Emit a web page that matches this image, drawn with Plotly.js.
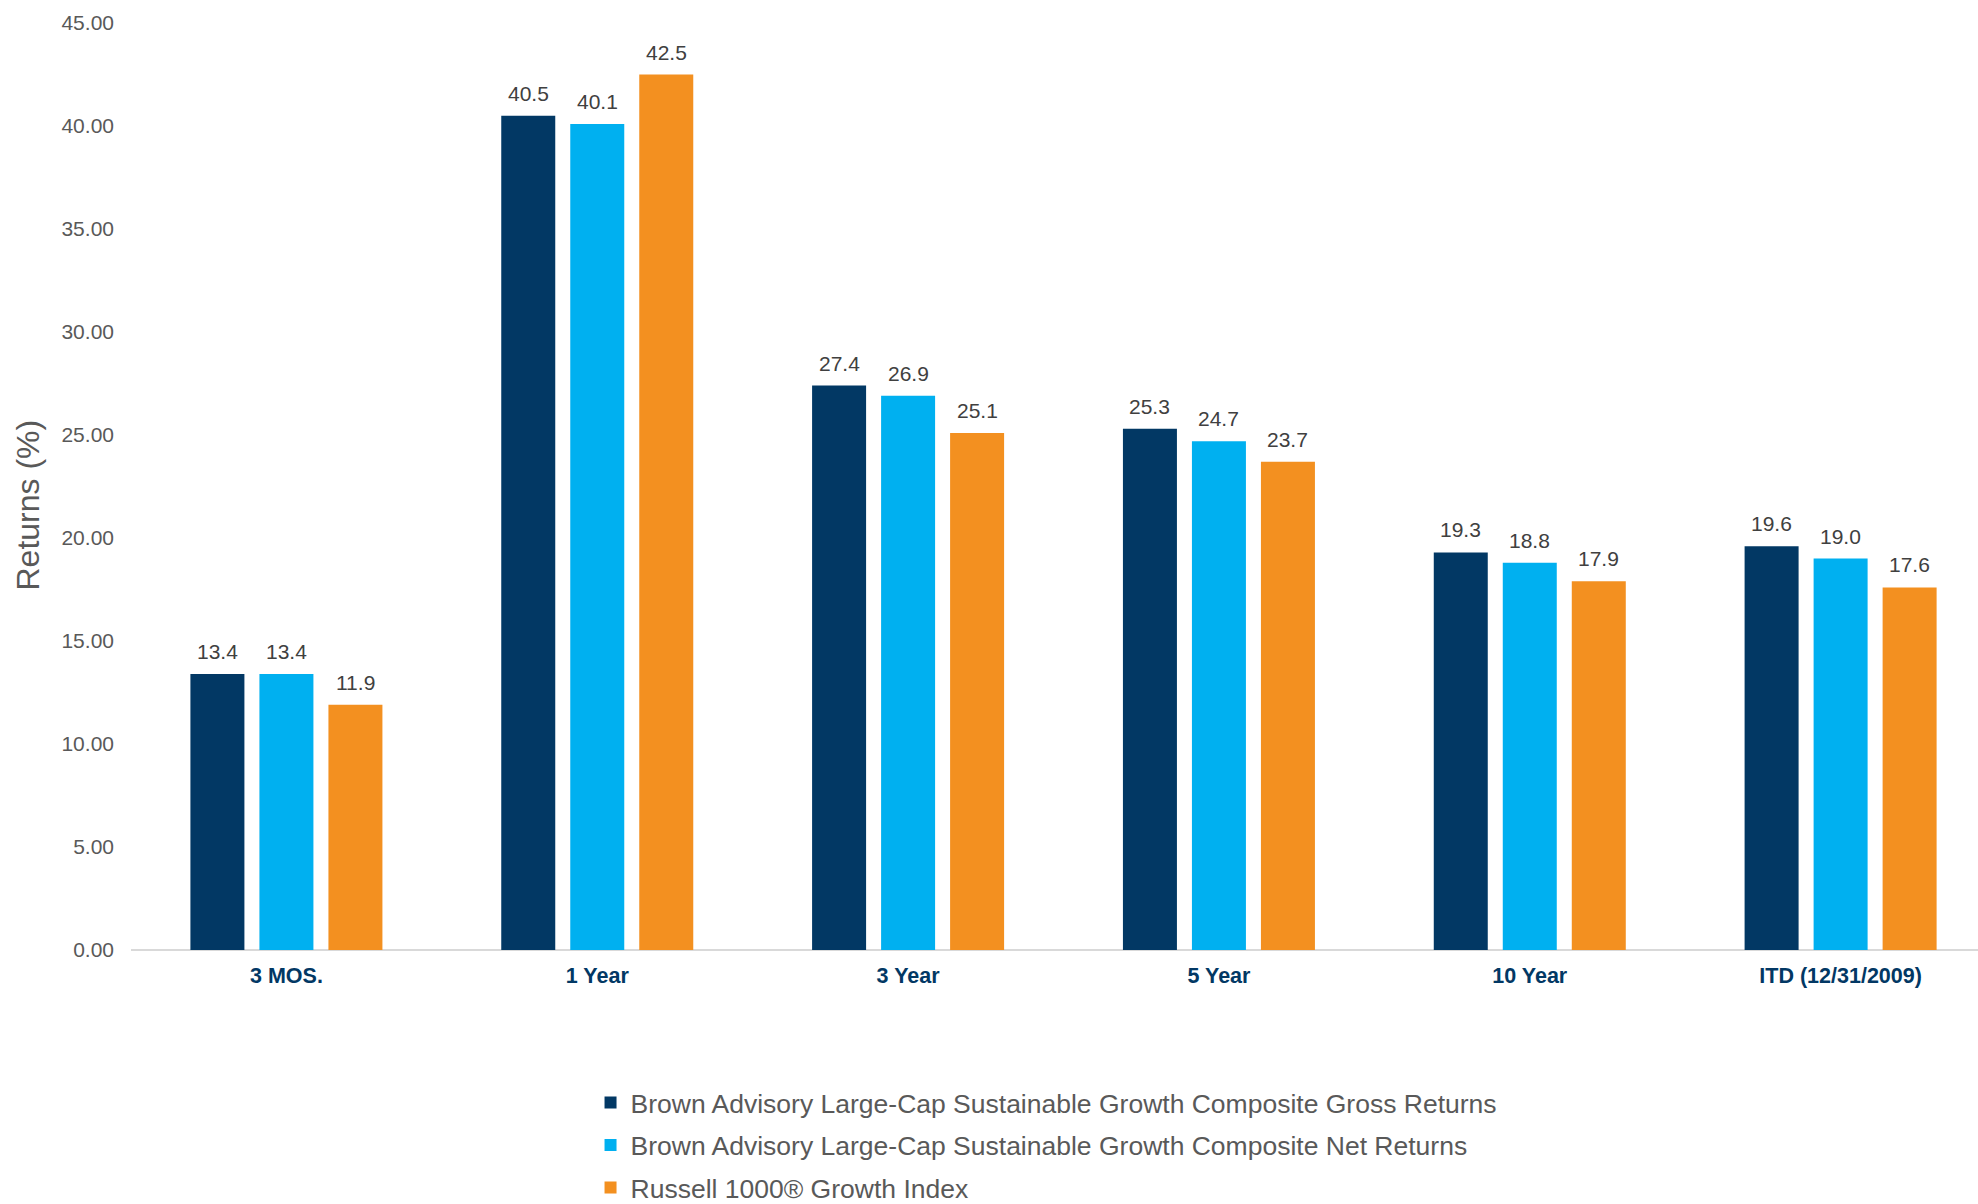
<!DOCTYPE html>
<html>
<head>
<meta charset="utf-8">
<script src="https://cdn.plot.ly/plotly-3.0.1.min.js"></script>
<style>
html,body{margin:0;padding:0;background:#fff;}
#chart{width:1978px;height:1204px;}
</style>
</head>
<body>
<div id="chart"></div>
<script>
const categories = ["3 MOS.", "1 Year", "3 Year", "5 Year", "10 Year", "ITD (12/31/2009)"];
const seriesNames = [
  "Brown Advisory Large-Cap Sustainable Growth Composite Gross Returns",
  "Brown Advisory Large-Cap Sustainable Growth Composite Net Returns",
  "Russell 1000® Growth Index"
];
const grossReturns = [13.4, 40.5, 27.4, 25.3, 19.3, 19.6];
const netReturns = [13.4, 40.1, 26.9, 24.7, 18.8, 19.0];
const russellReturns = [11.9, 42.5, 25.1, 23.7, 17.9, 17.6];
const yTickValues = [0, 5, 10, 15, 20, 25, 30, 35, 40, 45];

const colors = ["#023864", "#00B0F0", "#F39020"];
const seriesValues = [grossReturns, netReturns, russellReturns];

const traces = seriesValues.map((vals, i) => ({
  type: "bar",
  name: seriesNames[i],
  x: categories,
  y: vals,
  marker: {color: colors[i]},
  legendgroup: "g" + i,
  hoverinfo: "x+y+name"
}));

// data labels above each bar, positioned through the axes
const labelAnnotations = [];
seriesValues.forEach((vals, i) => {
  vals.forEach((v, j) => {
    labelAnnotations.push({
      x: categories[j], y: v, xref: "x", yref: "y",
      text: v.toFixed(1),
      showarrow: false,
      xanchor: "center", yanchor: "bottom",
      xshift: (i - 1) * 69, yshift: 9,
      font: {family: "Liberation Sans, Arial, sans-serif", size: 21, color: "#404040"}
    });
  });
});

labelAnnotations.push({
  x: 0, y: 0.5, xref: "paper", yref: "paper",
  xanchor: "center", yanchor: "middle",
  xshift: -104, yshift: -19,
  textangle: -90,
  showarrow: false,
  text: "Returns (%)",
  font: {family: "Liberation Sans, Arial, sans-serif", size: 32, color: "#595959"}
});

const layout = {
  width: 1978,
  height: 1204,
  paper_bgcolor: "#ffffff",
  plot_bgcolor: "#ffffff",
  margin: {l: 131, r: 0, t: 23, b: 254, autoexpand: false},
  barmode: "group",
  bargap: 0.334,
  bargroupgap: 0.2175,
  font: {family: "Liberation Sans, Arial, sans-serif", color: "#595959"},
  showlegend: true,
  legend: {
    x: 0.2488, xanchor: "left",
    y: -0.139, yanchor: "top",
    orientation: "v",
    traceorder: "grouped",
    tracegroupgap: 5,
    font: {size: 26.5, color: "#595959"},
    bgcolor: "rgba(0,0,0,0)"
  },
  xaxis: {
    type: "category",
    range: [-0.5, 5.442],
    showgrid: false,
    zeroline: false,
    showline: false,
    ticks: "",
    ticklabelstandoff: 10,
    tickfont: {family: "Liberation Sans, Arial, sans-serif", size: 21.5, color: "#023864", weight: "bold"}
  },
  yaxis: {
    range: [0, 45],
    tickvals: yTickValues,
    tickformat: ".2f",
    showgrid: false,
    zeroline: true,
    zerolinecolor: "#D9D9D9",
    zerolinewidth: 2,
    showline: false,
    ticks: "",
    ticklabelstandoff: 16,
    tickfont: {size: 21, color: "#595959"}
  },
  annotations: labelAnnotations
};

Plotly.newPlot("chart", traces, layout, {displayModeBar: false, responsive: false});
</script>
</body>
</html>
